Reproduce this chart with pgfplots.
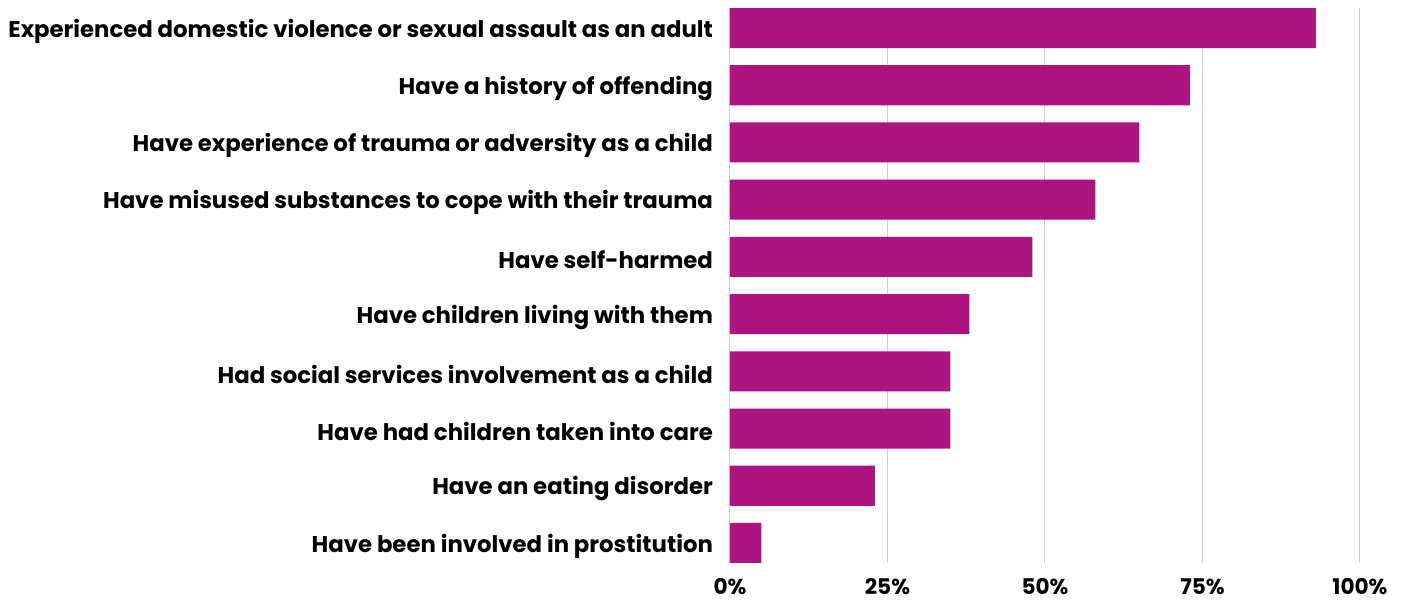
\documentclass[border=0pt]{standalone}
\usepackage{pgfplots}
\pgfplotsset{compat=1.18}
\usepackage{fontspec}
\setmainfont{Poppins}
\definecolor{barc}{HTML}{AD1480}
\definecolor{gridc}{HTML}{D0D0D0}
\begin{document}
\begin{tikzpicture}
\path[use as bounding box] (-365pt,-20pt) rectangle (338.5pt,281.5pt);
\begin{axis}[
  at={(0,0)}, anchor=south west,
  scale only axis, width=315pt, height=277.5pt,
  xbar, bar width=0.7,
  xmin=0, xmax=100,
  ymin=-0.35, ymax=9.35, y dir=reverse,
  axis line style={draw=none},
  major tick length=0pt,
  xtick={0,25,50,75,100},
  xticklabels={0\%,25\%,50\%,75\%,100\%},
  xmajorgrids, grid style={gridc, line width=0.5pt},
  ytick={0,...,9},
  yticklabels={Experienced domestic violence or sexual assault as an adult,
    Have a history of offending,
    Have experience of trauma or adversity as a child,
    Have misused substances to cope with their trauma,
    Have self-harmed,
    Have children living with them,
    Had social services involvement as a child,
    Have had children taken into care,
    Have an eating disorder,
    Have been involved in prostitution},
  yticklabel style={font=\fontsize{11.4}{13}\selectfont\bfseries, anchor=east, xshift=-5pt, yshift=-1.5pt},
  xticklabel style={font=\fontsize{10.8}{12}\selectfont\bfseries, inner sep=0.5pt, text depth=0pt, yshift=-7pt},
  /pgf/number format/assume math mode=true,
  clip=false,
]
\addplot[fill=barc, draw=none] coordinates {
(93,0) (73,1) (65,2) (58,3) (48,4) (38,5) (35,6) (35,7) (23,8) (5,9)};
\end{axis}
\end{tikzpicture}
\end{document}
